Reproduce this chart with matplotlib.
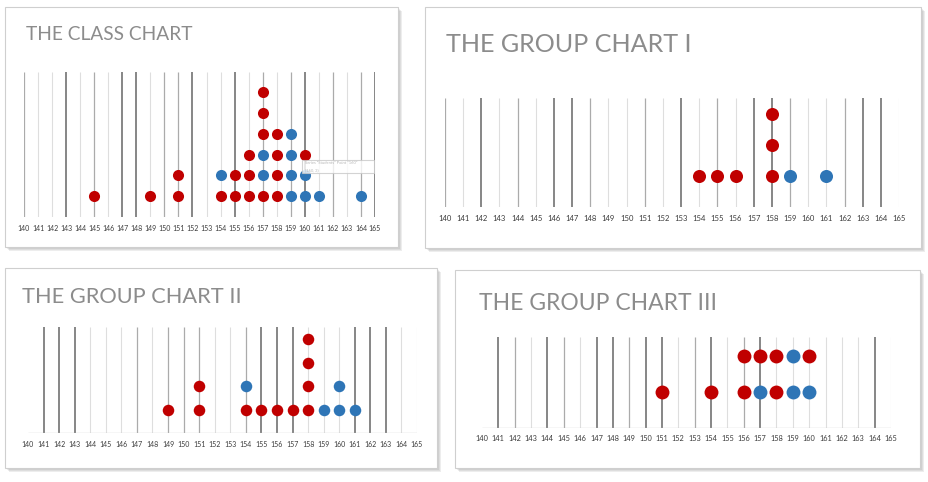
import matplotlib.pyplot as plt
from matplotlib.patches import Rectangle

W, H = 929, 482
RED = '#C00000'
BLUE = '#2E75B6'

# x values (cm) and the colour of each stacked dot, bottom to top
class_x = [145, 149, 151, 154, 155, 156, 157, 158, 159, 160, 161, 164]
class_stack = ["R", "R", "RR", "RB", "RR", "RRR", "RBBRRR", "RRRR", "BBBB", "BBR", "B", "B"]

group1_x = [154, 155, 156, 158, 159, 161]
group1_stack = ["R", "R", "R", "RRR", "B", "B"]

group2_x = [149, 151, 154, 155, 156, 157, 158, 159, 160, 161]
group2_stack = ["R", "RR", "RB", "R", "R", "R", "RRRR", "B", "BB", "B"]

group3_x = [151, 154, 156, 157, 158, 159, 160]
group3_stack = ["R", "R", "RR", "BR", "RR", "BB", "BR"]

ticks = list(range(140, 166))

# gridline shade per tick (0 none, 1 light, 2 medium, 3 dark) - screenshot aliasing
shade1 = "21131213312231131212312123"
shade2 = "21312133211213121332112331"
shade3 = "03331112122211233311133311"
shade4 = "03213213323312312311111131"
shade_col = {1: ('#dedede', 0.8), 2: ('#ababab', 0.9), 3: ('#666666', 1.1)}

fig = plt.figure(figsize=(W / 100, H / 100), dpi=100)
fig.patch.set_facecolor('white')


def card(x0, y0, x1, y1):
    for i in range(1, 5):
        fig.patches.append(Rectangle(((x0 + i) / W, 1 - (y1 + i) / H), (x1 - x0) / W, (y1 - y0) / H,
                                     transform=fig.transFigure, facecolor='#808080',
                                     edgecolor='none', alpha=0.14, zorder=0))
    fig.patches.append(Rectangle((x0 / W, 1 - y1 / H), (x1 - x0) / W, (y1 - y0) / H,
                                 transform=fig.transFigure, facecolor='white',
                                 edgecolor='#cfcfcf', lw=0.8, zorder=1))


def panel(title, tx, ty, tsize, xs, stacks, shades, x140, x165, ybase, ytop, step,
          msize, lsize, pad, baseline=False):
    ax = fig.add_axes([x140 / W, 1 - ybase / H, (x165 - x140) / W, (ybase - ytop) / H])
    ax.set_zorder(3)
    top = (ybase - ytop) / step
    ax.set_xlim(140, 165)
    ax.set_ylim(0, top)
    ax.set_facecolor('none')
    for s in ax.spines.values():
        s.set_visible(False)
    for t, sh in zip(ticks, shades):
        sh = int(sh)
        if sh:
            c, lw = shade_col[sh]
            ax.vlines(t, 0, top, colors=c, lw=lw, zorder=1)
    if baseline:
        ax.hlines(0, 140, 165, colors='#bfbfbf', lw=0.9, zorder=1)
    for x, st in zip(xs, stacks):
        for k, ch in enumerate(st):
            ax.plot(x, k + 1, 'o', ms=msize, color=RED if ch == 'R' else BLUE,
                    mec='none', clip_on=False, zorder=3)
    ax.set_yticks([])
    ax.set_xticks(ticks)
    ax.set_xticklabels([str(t) for t in ticks], fontsize=lsize, color='#3a3a3a', family='Lato')
    ax.tick_params(axis='x', length=0, pad=pad)
    fig.text(tx / W, 1 - ty / H, title, fontsize=tsize, color='#8c8c8c', family='Lato',
             va='center', ha='left', zorder=4)
    return ax


card(5, 7, 398, 247)
card(425, 7, 921, 248)
card(5, 268, 437, 468)
card(455, 270, 920, 468)

ax1 = panel("THE CLASS CHART", 26, 35, 13.8, class_x, class_stack, shade1,
            24, 375, 217, 72, 20.8, 8.0, 5, 5.8)
panel("THE GROUP CHART I", 446, 44, 18.1, group1_x, group1_stack, shade2,
      445, 899, 207, 98, 31, 9.4, 5.5, 6.0)
panel("THE GROUP CHART II", 22, 297, 15.7, group2_x, group2_stack, shade3,
      28, 417, 433, 327, 23.5, 8.3, 5, 5.6, baseline=True)
panel("THE GROUP CHART III", 479, 304, 16.5, group3_x, group3_stack, shade4,
      482, 891, 428, 337, 36, 10, 5.3, 5.2, baseline=True)

# hover tooltip left in the class chart screenshot
fig.patches.append(Rectangle((302 / W, 1 - 173 / H), 72 / W, 13 / H, transform=fig.transFigure,
                             facecolor='white', edgecolor='#c8c8c8', lw=0.8, alpha=0.8, zorder=5))
fig.text(305 / W, 1 - 164 / H, "Series \"Students\" Point \"160\"", fontsize=3, color='#b8b8b8',
         family='Lato', zorder=6)
fig.text(305 / W, 1 - 171 / H, "(160, 3)", fontsize=3, color='#b8b8b8', family='Lato', zorder=6)

fig.savefig('out.png', dpi=100)
